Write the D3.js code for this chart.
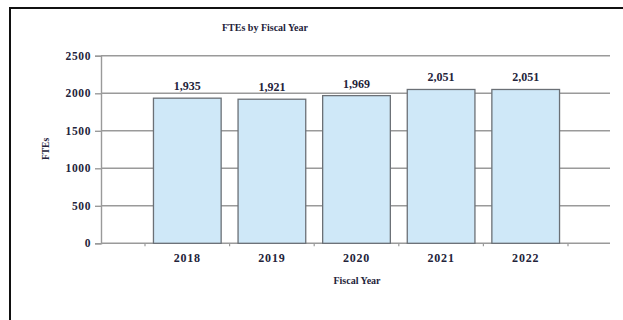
<!DOCTYPE html>
<html>
<head>
<meta charset="utf-8">
<script src="https://cdn.jsdelivr.net/npm/d3@7"></script>
<style>
  html, body { margin: 0; padding: 0; background: #fff; }
  svg text { font-family: "Liberation Serif", "Times New Roman", serif; font-weight: bold; fill: #23233a; }
</style>
</head>
<body>
<svg id="chart" width="623" height="320"></svg>
<script>
// FTE headcount per fiscal year
const years = ["2018", "2019", "2020", "2021", "2022"];
const ftes = [1935, 1921, 1969, 2051, 2051];
const yTicks = [0, 500, 1000, 1500, 2000, 2500];

const svg = d3.select("#chart");

// outer frame (left and top edges)
svg.append("path")
  .attr("d", "M10,320 L10,8 L623,8")
  .attr("fill", "none")
  .attr("stroke", "#111")
  .attr("stroke-width", 2);

const plot = { left: 101, right: 610, top: 55.8, bottom: 243.3 };

const y = d3.scaleLinear().domain([0, 2500]).range([plot.bottom, plot.top]);
const x = d3.scaleBand().domain(years).range([145, 568]).paddingInner(0.2).paddingOuter(0.1);

// horizontal gridlines
svg.append("g")
  .selectAll("line")
  .data(yTicks.slice(1))
  .join("line")
  .attr("x1", plot.left).attr("x2", plot.right)
  .attr("y1", d => y(d)).attr("y2", d => y(d))
  .attr("stroke", "#9a9a9a").attr("stroke-width", 1.4);

// y axis
const yAxis = svg.append("g")
  .attr("transform", `translate(${plot.left},0)`)
  .call(d3.axisLeft(y).tickValues(yTicks).tickSize(6).tickPadding(4).tickFormat(d3.format("d")));
yAxis.select(".domain").attr("stroke", "#9a9a9a").attr("stroke-width", 1.4);
yAxis.selectAll(".tick line").attr("stroke", "#9a9a9a").attr("stroke-width", 1.4);
yAxis.selectAll(".tick text").attr("font-size", 11.5).attr("letter-spacing", 0.6);

// x axis baseline with tick marks at category boundaries
svg.append("line")
  .attr("x1", plot.left).attr("x2", plot.right)
  .attr("y1", plot.bottom).attr("y2", plot.bottom)
  .attr("stroke", "#9a9a9a").attr("stroke-width", 1.4);
const step = x.step();
const bounds = years.map(d => x(d) - x.paddingOuter() * step).concat([568]);
svg.append("g")
  .selectAll("line")
  .data(bounds)
  .join("line")
  .attr("x1", d => d).attr("x2", d => d)
  .attr("y1", plot.bottom).attr("y2", plot.bottom + 3)
  .attr("stroke", "#9a9a9a").attr("stroke-width", 1.2);

// bars
svg.append("g")
  .selectAll("rect")
  .data(years)
  .join("rect")
  .attr("x", d => x(d))
  .attr("width", x.bandwidth())
  .attr("y", (d, i) => y(ftes[i]))
  .attr("height", (d, i) => plot.bottom - y(ftes[i]))
  .attr("fill", "#cfe8f8")
  .attr("stroke", "#6b7076")
  .attr("stroke-width", 1.3);

// value labels
svg.append("g")
  .selectAll("text")
  .data(years)
  .join("text")
  .attr("x", d => x(d) + x.bandwidth() / 2)
  .attr("y", (d, i) => y(ftes[i]) - 8)
  .attr("text-anchor", "middle")
  .attr("font-size", 12)
  .text((d, i) => d3.format(",")(ftes[i]));

// category labels
svg.append("g")
  .selectAll("text")
  .data(years)
  .join("text")
  .attr("x", d => x(d) + x.bandwidth() / 2)
  .attr("y", 262)
  .attr("text-anchor", "middle")
  .attr("font-size", 12)
  .attr("letter-spacing", 0.8)
  .text(d => d);

// titles
svg.append("text")
  .attr("x", 265).attr("y", 31)
  .attr("text-anchor", "middle")
  .attr("font-size", 10)
  .text("FTEs by Fiscal Year");

svg.append("text")
  .attr("x", 357).attr("y", 284)
  .attr("text-anchor", "middle")
  .attr("font-size", 10)
  .text("Fiscal Year");

svg.append("text")
  .attr("transform", "translate(49,149) rotate(-90)")
  .attr("text-anchor", "middle")
  .attr("font-size", 9.5)
  .text("FTEs");
</script>
</body>
</html>
